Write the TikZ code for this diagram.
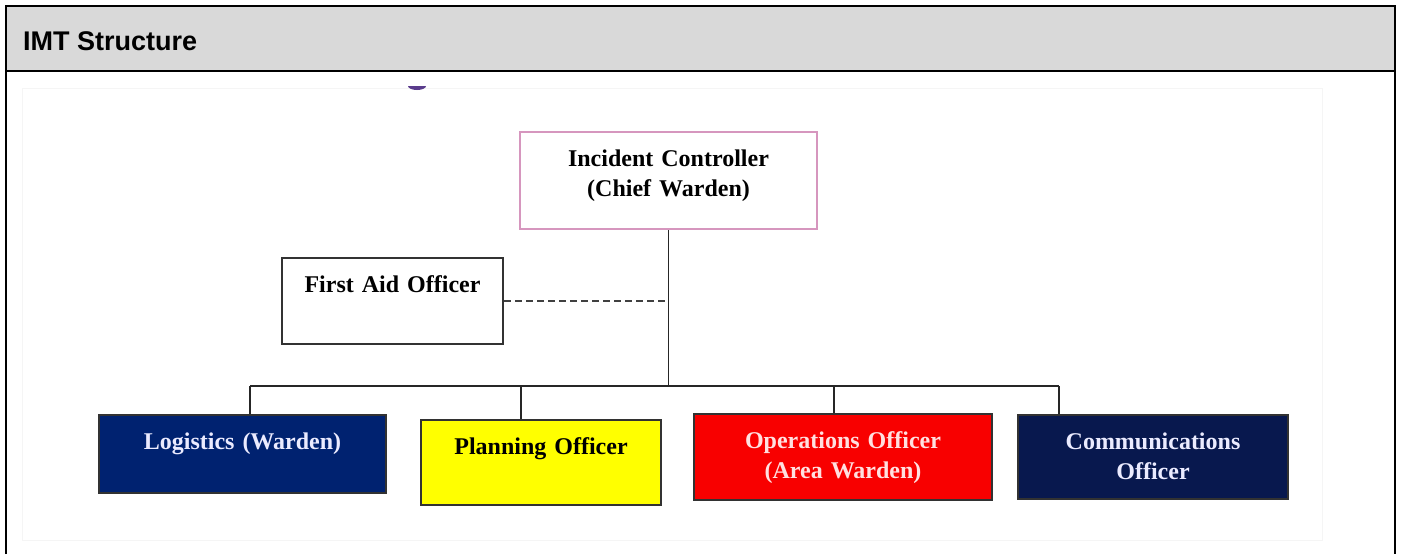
\documentclass[tikz,border=0pt]{standalone}
\usepackage{fontspec}
\setmainfont{Liberation Serif}
\newfontfamily\headfont{Liberation Sans}

\definecolor{header}{RGB}{217,217,217}
\definecolor{logblue}{RGB}{0,34,112}
\definecolor{comblue}{RGB}{8,24,78}
\definecolor{opsred}{RGB}{248,0,0}
\definecolor{planyellow}{RGB}{255,255,0}
\definecolor{icpink}{RGB}{214,150,190}
\definecolor{edge}{RGB}{50,50,50}
\definecolor{blob}{RGB}{90,60,140}

\begin{document}
\begin{tikzpicture}[x=1pt, y=-1pt,
            box/.style={draw=edge, line width=2pt, inner sep=0pt, align=center, text height=34pt, anchor=north west, font=\fontsize{24}{30}\selectfont\bfseries},
            link/.style={black!85, line width=1.8pt}]
            \useasboundingbox (0,0) rectangle (1402,554);

            \fill[header] (6,6) rectangle (1395,71);
            \draw[black, line width=2pt] (6,554) -- (6,6) -- (1395,6) -- (1395,554);
            \draw[black, line width=2.5pt] (6,71) -- (1395,71);
            \node[anchor=base west, inner sep=0pt, font=\headfont\fontsize{27}{32}\selectfont\bfseries] (title) at (23,50) {IMT Structure};

            \draw[black!4, line width=1pt] (22,88) rectangle (1322,540);
            \fill[blob] (426,86) arc[start angle=0, end angle=-180, x radius=9pt, y radius=4pt] -- cycle;

            \node[box, draw=icpink, fill=white, text width=297pt, text depth=63pt] (ic) at (519,131) {Incident Controller\\(Chief Warden)};
            \node[box, fill=white, text width=221pt, text depth=52pt] (fa) at (281,257) {First Aid Officer};
            \node[box, fill=logblue, text=white!92!blue, text width=287pt, text depth=44pt] (log) at (98,414) {Logistics (Warden)};
            \node[box, fill=planyellow, text width=240pt, text depth=51pt] (plan) at (420,419) {Planning Officer};
            \node[box, fill=opsred, text=white!88!red, text width=298pt, text depth=52pt] (ops) at (693,413) {Operations Officer\\(Area Warden)};
            \node[box, fill=comblue, text=white!92!blue, text width=270pt, text depth=50pt] (com) at (1017,414) {Communications\\Officer};

            \coordinate (busL) at (250,386);
            \coordinate (jplan) at (521,386);
            \coordinate (jops) at (834,386);
            \coordinate (busR) at (1059,386);

            \draw[link] (ic.south) -- (ic.south |- busL);
            \draw[link] (busL) -- (busR);
            \draw[link] (busL) -- (busL |- log.north);
            \draw[link] (jplan) -- (jplan |- plan.north);
            \draw[link] (jops) -- (jops |- ops.north);
            \draw[link] (busR) -- (busR |- com.north);
            \draw[link, black!75, line width=2.4pt, dash pattern=on 7pt off 4pt] (fa.east) -- (fa.east -| ic.south);
        \end{tikzpicture}
\end{document}
